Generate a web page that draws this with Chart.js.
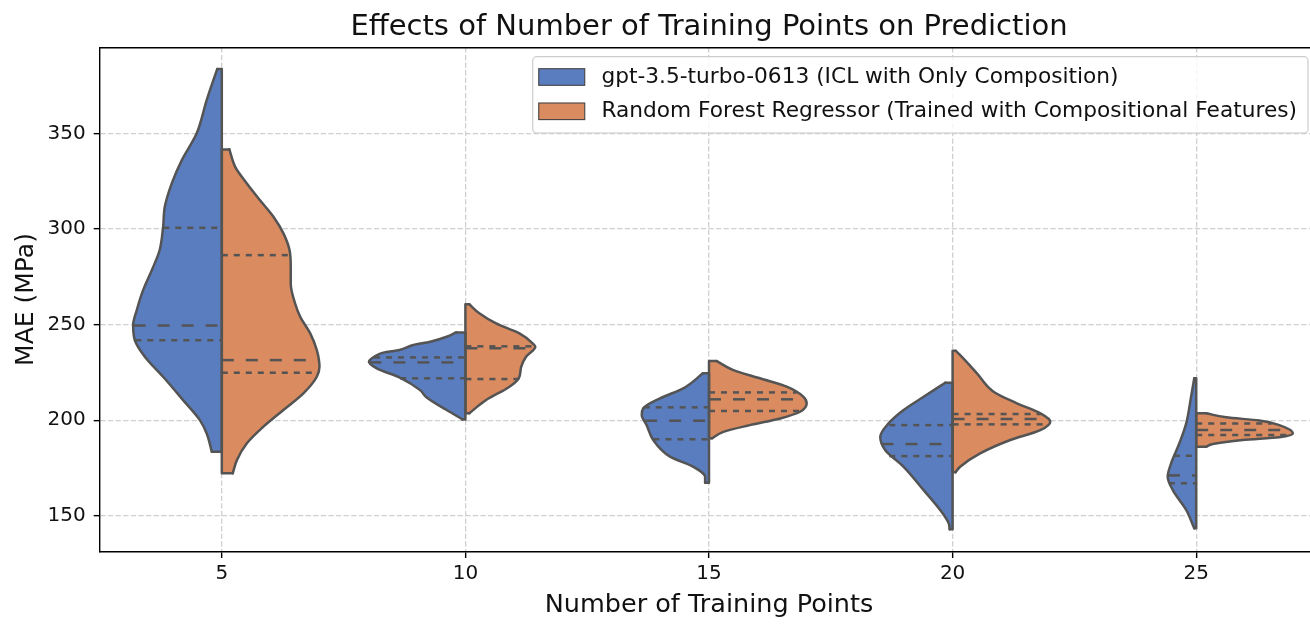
<!DOCTYPE html>
<html>
<head>
<meta charset="utf-8">
<script src="https://cdn.jsdelivr.net/npm/chart.js@4.4.1/dist/chart.umd.min.js"></script>
<style>
  html, body { margin: 0; padding: 0; overflow: hidden; background: #fff; }
  #wrap { width: 1318px; height: 624px; position: relative; }
</style>
</head>
<body>
<div id="wrap"><canvas id="violin"></canvas></div>
<script>
// -------- Data --------
const categories = ["5", "10", "15", "20", "25"];
const yTicks = [150, 200, 250, 300, 350];
const seriesNames = [
  "gpt-3.5-turbo-0613 (ICL with Only Composition)",
  "Random Forest Regressor (Trained with Compositional Features)"
];

// violin halves: [MAE, half width in category units], top -> bottom
const gpt5 = [[383.6,0.019],[367.4,0.062],[350,0.103],[336,0.164],[324,0.205],[311.6,0.234],[301,0.241],[289,0.255],[280,0.282],[268,0.323],[257.6,0.349],[249.7,0.364],[241.8,0.357],[233.2,0.316],[222.7,0.241],[210.5,0.159],[200,0.090],[193,0.062],[183.5,0.041]];
const gpt10 = [[245.9,0.038],[243.6,0.077],[241,0.144],[239.3,0.214],[236.7,0.271],[235.3,0.337],[233.5,0.370],[230.5,0.396],[227.1,0.364],[222.3,0.269],[215.7,0.186],[212,0.160],[205.3,0.077],[200.4,0.012]];
const gpt15 = [[224.5,0.025],[216.6,0.106],[211.4,0.201],[206.2,0.270],[202.7,0.276],[197.4,0.256],[189.6,0.229],[180.9,0.160],[175.6,0.064],[170.4,0.016],[167.3,0.016]];
const gpt20 = [[219.6,0.030],[212.2,0.119],[205.3,0.201],[198.3,0.263],[191.3,0.297],[184.4,0.277],[175.6,0.201],[163.4,0.119],[153,0.051],[146,0.016],[142.9,0.012]];
const gpt25 = [[221.9,0.008],[212.2,0.021],[198.3,0.041],[187.9,0.069],[177.4,0.103],[170.4,0.117],[163.4,0.096],[153,0.041],[143.4,0.008]];

const rf5 = [[341.6,0.031],[332.5,0.055],[323.8,0.103],[315,0.157],[306.4,0.212],[297.7,0.253],[289,0.278],[280.2,0.283],[271.5,0.283],[261,0.301],[254,0.322],[245.4,0.363],[236.7,0.390],[227.9,0.401],[222.7,0.390],[214,0.335],[205.3,0.253],[196.6,0.171],[187.9,0.103],[179.1,0.062],[172.2,0.045]];
const rf10 = [[260.6,0.016],[255.9,0.057],[250.6,0.126],[245.4,0.222],[240.2,0.276],[238.4,0.287],[233.2,0.249],[227.9,0.229],[221.9,0.219],[217.5,0.181],[210.5,0.085],[203.6,0.016]];
const rf15 = [[230.9,0.032],[226.2,0.100],[221.9,0.209],[217.5,0.319],[212.2,0.388],[208.8,0.401],[204.4,0.374],[200.9,0.292],[197.4,0.168],[193.9,0.059],[190.5,0.012]];
const rf20 = [[236.3,0.012],[234,0.031],[224.5,0.100],[214.9,0.168],[208.8,0.264],[203.6,0.360],[199.2,0.401],[194.8,0.360],[189.6,0.237],[182.6,0.113],[175.6,0.031],[172.8,0.012]];
const rf25 = [[203.6,0.041],[201.5,0.123],[199.8,0.259],[197.4,0.341],[193.1,0.397],[191,0.341],[189.6,0.191],[187.5,0.068],[186.1,0.041]];

// quartiles: [Q1, median, Q3] as [MAE, half width]
const gptQ5 = [[241.8,0.355],[249.5,0.362],[300.6,0.240]];
const gptQ10 = [[221.9,0.268],[230.2,0.394],[232.8,0.375]];
const gptQ15 = [[190,0.228],[199.7,0.262],[206.7,0.268]];
const gptQ20 = [[181.2,0.260],[187.5,0.292],[197.4,0.260]];
const gptQ25 = [[167,0.112],[171.1,0.116],[181.4,0.092]];

const rfQ5 = [[224.8,0.394],[231.4,0.398],[286.3,0.278]];
const rfQ10 = [[221.5,0.217],[237.6,0.285],[238.6,0.285]];
const rfQ15 = [[204.8,0.376],[210.9,0.398],[214.5,0.360]];
const rfQ20 = [[197.8,0.380],[200.6,0.398],[203.2,0.362]];
const rfQ25 = [[192.2,0.370],[194.8,0.375],[198.3,0.310]];

const gptShapes = [gpt5, gpt10, gpt15, gpt20, gpt25];
const rfShapes = [rf5, rf10, rf15, rf20, rf25];
const gptQuarts = [gptQ5, gptQ10, gptQ15, gptQ20, gptQ25];
const rfQuarts = [rfQ5, rfQ10, rfQ15, rfQ20, rfQ25];

// -------- Style --------
const FONT = "'DejaVu Sans', sans-serif";
const BLUE = "#5a7dbf";
const ORANGE = "#da8b5f";
const EDGE = "#545454";
const GRID = "#cfcfcf";
const LW = 2.5;

// -------- Datasets (vertical lines, index axis = y) --------
function halfViolin(profile, center, side, color) {
  const first = profile[0], last = profile[profile.length - 1];
  const edge = {
    data: profile.map(([v, w]) => ({ x: center + side * w, y: v })),
    backgroundColor: color, borderColor: EDGE, borderWidth: LW,
    borderCapStyle: "round", borderJoinStyle: "round",
    cubicInterpolationMode: "monotone",
    fill: { value: center }, pointRadius: 0, order: 3
  };
  // flat caps + the split line in the middle
  const frame = {
    data: [
      { x: center + side * first[1], y: first[0] },
      { x: center, y: first[0] },
      { x: center, y: last[0] },
      { x: center + side * last[1], y: last[0] }
    ],
    borderColor: EDGE, borderWidth: LW, borderCapStyle: "round", borderJoinStyle: "round",
    fill: false, tension: 0, pointRadius: 0, order: 2
  };
  return [edge, frame];
}

function quartLines(quart, center, side) {
  return quart.map(([v, w], k) => ({
    data: side < 0 ? [{ x: center - w, y: v }, { x: center, y: v }]
                   : [{ x: center, y: v }, { x: center + w, y: v }],
    borderColor: EDGE, borderWidth: LW,
    borderDash: k === 1 ? [12, 12] : [6, 6],
    fill: false, tension: 0, pointRadius: 0, order: 1
  }));
}

const datasets = [];
categories.forEach((c, i) => {
  datasets.push(...halfViolin(gptShapes[i], i, -1, BLUE));
  datasets.push(...halfViolin(rfShapes[i], i, 1, ORANGE));
  datasets.push(...quartLines(gptQuarts[i], i, -1));
  datasets.push(...quartLines(rfQuarts[i], i, 1));
});

// -------- Frame (top/right spines) + legend --------
const frameLegend = {
  id: "frameLegend",
  afterDraw(chart) {
    const { ctx, chartArea: a } = chart;
    ctx.save();
    ctx.strokeStyle = "#000";
    ctx.lineWidth = 1.4;
    ctx.beginPath();
    ctx.moveTo(a.left, a.top + 0.5);
    ctx.lineTo(a.right, a.top + 0.5);
    ctx.lineTo(a.right, a.bottom);
    ctx.stroke();

    ctx.font = "21.7px " + FONT;
    const textW = Math.max(...seriesNames.map(t => ctx.measureText(t).width));
    const padL = 6, sw = 46, sh = 16.6, gap = 16.7, padR = 11, rowH = 34.3;
    const right = a.right - 10, top = a.top + 9.4;
    const w = padL + sw + gap + textW + padR, h = 76.3;
    const left = right - w;

    ctx.beginPath();
    ctx.roundRect(left, top, w, h, 4);
    ctx.fillStyle = "rgba(255,255,255,0.8)";
    ctx.fill();
    ctx.strokeStyle = "#cccccc";
    ctx.lineWidth = 1.2;
    ctx.stroke();

    [BLUE, ORANGE].forEach((col, k) => {
      const cy = top + 20.3 + k * rowH;
      ctx.fillStyle = col;
      ctx.fillRect(left + padL, cy - sh / 2, sw, sh);
      ctx.strokeStyle = "#444";
      ctx.lineWidth = 1.1;
      ctx.strokeRect(left + padL, cy - sh / 2, sw, sh);
      ctx.fillStyle = "#111";
      ctx.textBaseline = "middle";
      ctx.textAlign = "left";
      ctx.fillText(seriesNames[k], left + padL + sw + gap, cy);
    });
    ctx.restore();
  }
};

new Chart(document.getElementById("violin"), {
  type: "line",
  data: { datasets },
  options: {
    indexAxis: "y",
    responsive: true,
    maintainAspectRatio: false,
    animation: false,
    layout: { padding: 0 },
    plugins: {
      legend: { display: false },
      tooltip: { enabled: false },
      title: {
        display: true,
        fullSize: false,
        text: "Effects of Number of Training Points on Prediction",
        color: "#111",
        font: { family: FONT, size: 29, weight: "normal" },
        padding: { top: 10, bottom: 2.5 }
      }
    },
    scales: {
      x: {
        type: "linear",
        min: -0.5,
        max: 4.5,
        afterBuildTicks: s => { s.ticks = categories.map((c, i) => ({ value: i })); },
        afterFit: s => { s.height = 72.3; },
        ticks: {
          callback: v => categories[v],
          color: "#111",
          font: { family: FONT, size: 20 },
          padding: 4,
          maxRotation: 0
        },
        grid: { color: GRID, lineWidth: 1.3, tickLength: 6.3, tickColor: "#000", tickWidth: 1.4 },
        border: { display: true, color: "#000", width: 1.4, dash: [5.3, 2.3] },
        title: {
          display: true,
          text: "Number of Training Points",
          color: "#111",
          font: { family: FONT, size: 25.5 },
          padding: { top: 0, bottom: 3 }
        }
      },
      y: {
        type: "linear",
        min: 131.2,
        max: 395,
        afterBuildTicks: s => { s.ticks = yTicks.map(v => ({ value: v })); },
        afterFit: s => { s.width = 100; },
        ticks: {
          color: "#111",
          font: { family: FONT, size: 20 },
          padding: 8
        },
        grid: { color: GRID, lineWidth: 1.3, tickLength: 6.3, tickColor: "#000", tickWidth: 1.4 },
        border: { display: true, color: "#000", width: 1.4, dash: [5.3, 2.3] },
        title: {
          display: true,
          text: "MAE (MPa)",
          color: "#111",
          font: { family: FONT, size: 25 },
          padding: { top: 11, bottom: 0 }
        }
      }
    }
  },
  plugins: [frameLegend]
});
</script>
</body>
</html>
